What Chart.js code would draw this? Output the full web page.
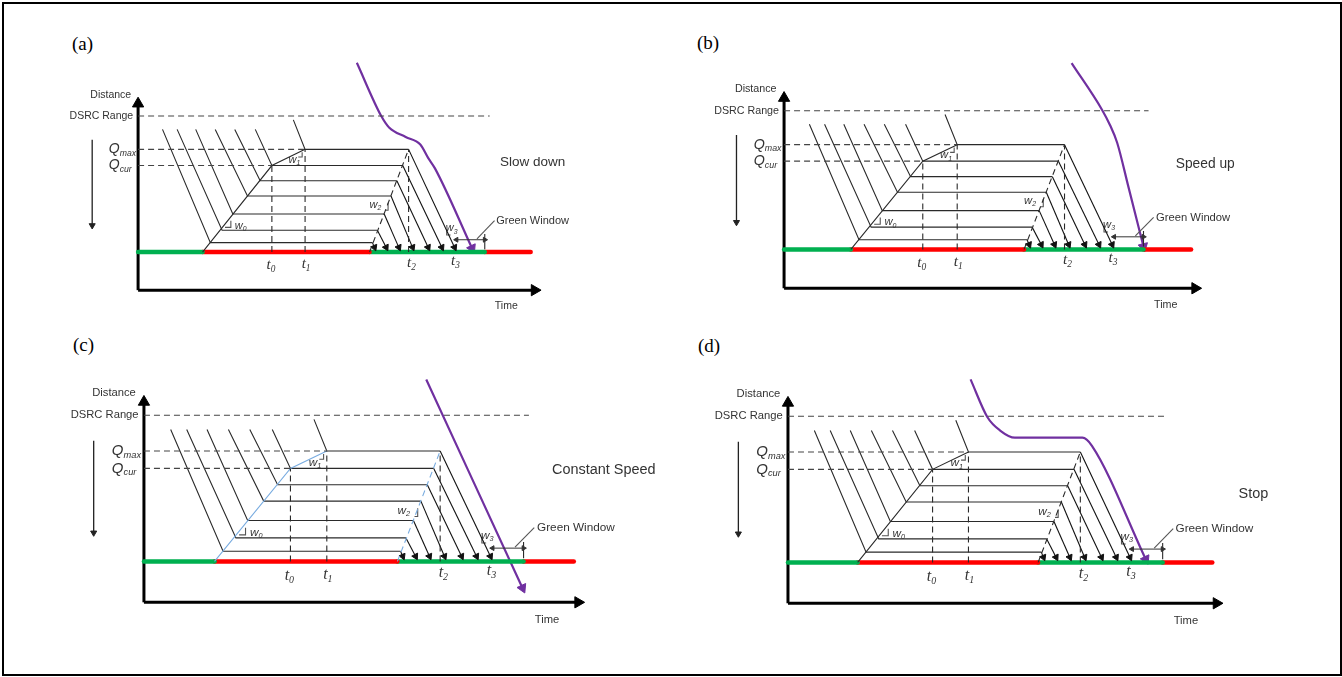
<!DOCTYPE html>
<html>
<head>
<meta charset="utf-8">
<script src="https://cdn.jsdelivr.net/npm/chart.js@4.4.0/dist/chart.umd.min.js"></script>
<style>
  body { margin: 0; background: #fff; }
  #frame { position: absolute; left: 2px; top: 2px; width: 1336px; height: 670px; border: 2px solid #000; }
  canvas { position: absolute; }
  .tag { position: absolute; font-family: 'Liberation Serif', serif; font-size: 19px; color: #000; line-height: 22px; }
</style>
</head>
<body>
<div id="frame"></div>
<div class="tag" style="left:72px;top:33px">(a)</div>
<div class="tag" style="left:697px;top:32px">(b)</div>
<div class="tag" style="left:73px;top:334px">(c)</div>
<div class="tag" style="left:698px;top:335px">(d)</div>
<canvas id="p0" width="640" height="308" style="left:30px;top:22px"></canvas>
<canvas id="p1" width="660" height="308" style="left:672px;top:22px"></canvas>
<canvas id="p2" width="640" height="336" style="left:30px;top:334px"></canvas>
<canvas id="p3" width="660" height="336" style="left:672px;top:334px"></canvas>
<script>
// time-space diagram, arbitrary units (time to the right, distance up)

// signal at the stop bar: green, red, green, red
const signalDistance = 40;
const phaseTimes = [0, 66, 237, 355, 402];
const phaseColors = ['#00b050', '#ff0000', '#00b050', '#ff0000'];

// queued vehicles, from the stop bar upwards
const queueDistance = [50, 63, 80, 99, 115, 131, 148];
const approachTime = [25, 40, 59, 79, 99, 120, 159];
const approachDistance = [169, 169, 169, 169, 169, 169, 179];
const joinTime = [74, 86, 97, 112, 125, 137, 171];
const leaveTime = [240, 245, 252, 259, 265, 271, 277];
const arriveTime = [242, 254, 267, 281, 297, 311, 324];
const arriveDistance = 45;

// reference levels and instants
const dsrcRange = 183;
const qMax = 148;
const qCur = 131;
const tMarks = [137, 171, 277, 324];   // t0, t1, t2, t3
const greenWindow = [326, 355];
const timeAxisEnd = 406;
const distAxisEnd = 196;

// the connected vehicle (purple) in each scenario
const scenarios = ['Slow down', 'Speed up', 'Constant Speed', 'Stop'];
const purpleTime = [
  [224, 249, 257, 274, 289, 297, 304, 342],
  [284, 314, 322, 329, 340, 355],
  [264, 354],
  [173, 189, 201, 215, 279, 288, 339]
];
const purpleDist = [
  [239, 183, 171, 161, 153, 139, 128, 44],
  [232, 184, 168, 150, 105, 43],
  [218, 14],
  [219, 182, 169, 162, 162, 154, 43]
];

// where each panel sits on the page
const panels = [
  { ox: 133, oy: 296, sx: 1.000, sy: 1.00, left: 30, top: 22, w: 640, h: 308 },
  { ox: 779, oy: 294, sx: 1.036, sy: 1.02, left: 672, top: 22, w: 660, h: 308 },
  { ox: 139, oy: 607, sx: 1.095, sy: 1.07, left: 30, top: 334, w: 640, h: 336 },
  { ox: 783, oy: 608, sx: 1.080, sy: 1.07, left: 672, top: 334, w: 660, h: 336 }
];

const ink = '#2a2a2a';
const lightBlue = '#79ace0';

function pts(xs, ys) {
  return xs.map((x, i) => ({ x: x, y: ys[i] }));
}

function arrowRot(ctx) {
  if (ctx.dataIndex === undefined) return 0;
  const d = ctx.dataset.data, i = ctx.dataIndex;
  const j = i === 0 ? 1 : i - 1;
  const sx = ctx.chart.scales.x, sy = ctx.chart.scales.y;
  const dx = sx.getPixelForValue(d[i].x) - sx.getPixelForValue(d[j].x);
  const dy = sy.getPixelForValue(d[i].y) - sy.getPixelForValue(d[j].y);
  return Math.atan2(dx, -dy) * 180 / Math.PI;
}

function line(data, opts) {
  return Object.assign({
    data: data, showLine: true, borderColor: ink, borderWidth: 1.1,
    pointRadius: 0, tension: 0, clip: false
  }, opts || {});
}

function arrow(data, color, r, width, both) {
  const radius = data.map((p, i) => (i === data.length - 1 || (both && i === 0)) ? r : 0);
  return line(data, {
    borderColor: color, borderWidth: width, pointRadius: radius,
    pointStyle: 'triangle', pointRotation: arrowRot,
    pointBackgroundColor: color, pointBorderColor: color, pointBorderWidth: 1
  });
}

const dash = [6, 4];

function buildDatasets(k) {
  const sets = [];
  const waveColor = k === 2 ? lightBlue : ink;

  // reference dashed lines
  sets.push(line(pts([0, 360], [dsrcRange, dsrcRange]), { borderDash: dash, borderColor: '#444' }));
  sets.push(line(pts([0, tMarks[1]], [qMax, qMax]), { borderDash: dash, borderColor: '#444' }));
  sets.push(line(pts([0, tMarks[0]], [qCur, qCur]), { borderDash: dash, borderColor: '#444' }));
  sets.push(line(pts([tMarks[0], tMarks[0]], [signalDistance, qCur]), { borderDash: dash }));
  sets.push(line(pts([tMarks[1], tMarks[1]], [signalDistance, qMax]), { borderDash: dash }));
  sets.push(line(pts([tMarks[2], tMarks[2]], [signalDistance, qMax]), { borderDash: dash }));

  // queue formation and discharge waves
  sets.push(line(pts([phaseTimes[1], joinTime[5], joinTime[6]], [signalDistance, qCur, qMax]), { borderColor: waveColor }));
  sets.push(line(pts([phaseTimes[2], leaveTime[6]], [signalDistance, qMax]), { borderColor: waveColor, borderDash: dash }));

  // vehicle trajectories: approach, stop in queue, discharge
  queueDistance.forEach((q, i) => {
    sets.push(line(pts([approachTime[i], joinTime[i], leaveTime[i]], [approachDistance[i], q, q])));
    sets.push(arrow(pts([leaveTime[i], arriveTime[i]], [q, arriveDistance]), '#111', 3.8, 1.1));
  });

  // slope marks
  sets.push(line(pts([89, 95, 95], [66, 66, 73]), { borderColor: '#555' }));
  sets.push(line(pts([164, 168, 168], [140, 140, 145]), { borderColor: '#555' }));
  sets.push(line(pts([253, 256, 256], [84, 84, 92]), { borderColor: '#555' }));
  sets.push(line(pts([316, 316, 320], [64, 58, 58]), { borderColor: '#555' }));

  // green window
  sets.push(arrow(pts(greenWindow, [53, 53]), '#333', 2.8, 1, true));
  sets.push(line(pts([greenWindow[1], greenWindow[1]], [43, 59])));
  sets.push(line(pts([347, 365], [54, 73]), { borderColor: '#555' }));

  // signal phases
  for (let i = 0; i < phaseColors.length; i++) {
    sets.push(line(pts([phaseTimes[i], phaseTimes[i + 1]], [signalDistance, signalDistance]),
      { borderColor: phaseColors[i], borderWidth: 4.5, borderCapStyle: 'round' }));
  }

  // connected vehicle
  const pv = arrow(pts(purpleTime[k], purpleDist[k]), '#7030a0', 5.5, 2.2);
  pv.cubicInterpolationMode = 'monotone';
  sets.push(pv);

  // axes
  sets.push(arrow(pts([0, 0], [0, distAxisEnd]), '#000', 6.5, 3));
  sets.push(arrow(pts([0, timeAxisEnd], [0, 0]), '#000', 6.5, 3));
  sets.push(arrow(pts([-47, -47], [158, 68]), '#222', 3.5, 1.3));
  return sets;
}

function notes(k) {
  return [
    { x: -28, y: 205, t: 'Distance', size: 10.5 },
    { x: -5, y: dsrcRange, t: 'DSRC Range', size: 10.5, align: 'right' },
    { x: -30, y: qMax, t: 'Q', sub: 'max', size: 14, italic: true, align: 'left' },
    { x: -30, y: qCur, t: 'Q', sub: 'cur', size: 14, italic: true, align: 'left' },
    { x: tMarks[0] - 1, y: 26, t: 't', sub: '0', size: 15, italic: true, serif: true },
    { x: tMarks[1] + 1, y: 27, t: 't', sub: '1', size: 15, italic: true, serif: true },
    { x: tMarks[2] + 3, y: 29, t: 't', sub: '2', size: 15, italic: true, serif: true },
    { x: tMarks[3] + 1, y: 31, t: 't', sub: '3', size: 15, italic: true, serif: true },
    { x: 105, y: 68, t: 'w', sub: '0', size: 11, italic: true },
    { x: 160, y: 137, t: 'w', sub: '1', size: 11, italic: true },
    { x: 243, y: 90, t: 'w', sub: '2', size: 11, italic: true },
    { x: 321, y: 65, t: 'w', sub: '3', size: 11, italic: true },
    { x: 377, y: -17, t: 'Time', size: 10.5 },
    { x: 404, y: 73, t: 'Green Window', size: 11 },
    { x: [404, 416, 430, 441][k], y: [134, 128, 129, 107][k], t: scenarios[k], size: 13.5 }
  ];
}

const notesPlugin = {
  id: 'notes',
  afterDatasetsDraw(chart, args, opts) {
    const c = chart.ctx, sx = chart.scales.x, sy = chart.scales.y;
    const f = opts.scale || 1;
    c.save();
    c.fillStyle = '#333';
    c.textBaseline = 'middle';
    opts.items.forEach(n => {
      const fam = n.serif ? "'Liberation Serif', serif" : "'Liberation Sans', Arial, sans-serif";
      const st = n.italic ? 'italic ' : '';
      const size = n.size * f;
      const mainFont = st + size + 'px ' + fam;
      const subFont = st + (size * 0.62) + 'px ' + fam;
      c.font = mainFont;
      const w1 = c.measureText(n.t).width;
      c.font = subFont;
      const w2 = n.sub ? c.measureText(n.sub).width : 0;
      const total = w1 + w2;
      let x = sx.getPixelForValue(n.x);
      const y = sy.getPixelForValue(n.y);
      const align = n.align || 'center';
      if (align === 'center') x -= total / 2;
      else if (align === 'right') x -= total;
      c.textAlign = 'left';
      c.font = mainFont;
      c.fillText(n.t, x, y);
      if (n.sub) {
        c.font = subFont;
        c.fillText(n.sub, x + w1, y + size * 0.3);
      }
    });
    c.restore();
  }
};

panels.forEach((p, k) => {
  new Chart(document.getElementById('p' + k), {
    type: 'scatter',
    data: { datasets: buildDatasets(k) },
    options: {
      responsive: false,
      animation: false,
      events: [],
      layout: { padding: 0 },
      scales: {
        x: { type: 'linear', display: false, min: (p.left - p.ox) / p.sx, max: (p.left + p.w - p.ox) / p.sx },
        y: { type: 'linear', display: false, min: (p.oy - p.top - p.h) / p.sy, max: (p.oy - p.top) / p.sy }
      },
      plugins: {
        legend: { display: false },
        tooltip: { enabled: false },
        notes: { items: notes(k), scale: p.sy }
      }
    },
    plugins: [notesPlugin]
  });
});
</script>
</body>
</html>
